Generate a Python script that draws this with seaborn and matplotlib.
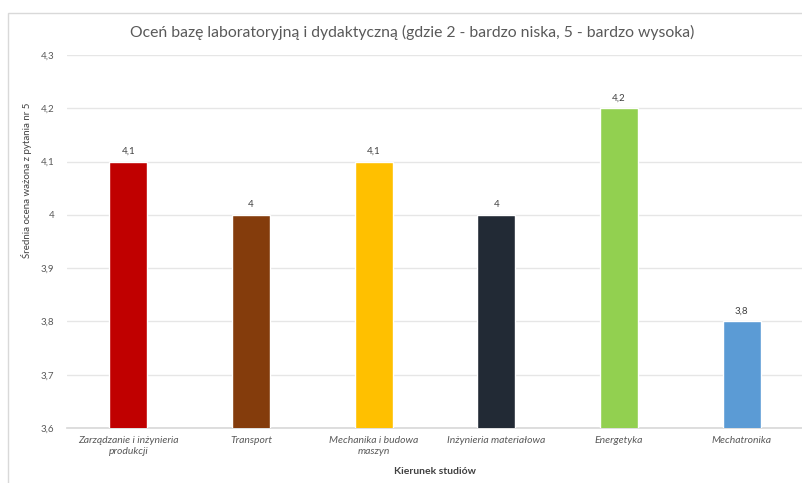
import matplotlib
matplotlib.use("Agg")
import matplotlib.pyplot as plt
import seaborn as sns
import pandas as pd
from matplotlib.patches import Rectangle

categories = ["Zarządzanie i inżynieria\nprodukcji", "Transport", "Mechanika i budowa\nmaszyn",
              "Inżynieria materiałowa", "Energetyka", "Mechatronika"]
values = [4.1, 4.0, 4.1, 4.0, 4.2, 3.8]
value_labels = ["4,1", "4", "4,1", "4", "4,2", "3,8"]
colors = ["#C00000", "#843C0C", "#FFC000", "#222A35", "#92D050", "#5B9BD5"]
yticks = [3.6, 3.7, 3.8, 3.9, 4.0, 4.1, 4.2, 4.3]
ytick_labels = ["3,6", "3,7", "3,8", "3,9", "4", "4,1", "4,2", "4,3"]

sns.set_theme(style="white")
plt.rcParams['font.family'] = ['Lato', 'DejaVu Sans']

df = pd.DataFrame({"kierunek": categories, "ocena": values})

fig = plt.figure(figsize=(8.03, 4.83), dpi=100)
ax = fig.add_axes([67/803, 1-428/483, (803-67)/803, (428-55)/483])

# outer chart frame
fig.patches.append(Rectangle((8/803, -0.01), 1.0, 1-13/483+0.01, transform=fig.transFigure,
                             fill=False, edgecolor="#D9D9D9", linewidth=1.0))

sns.barplot(data=df, x="kierunek", y="ocena", hue="kierunek", palette=colors,
            legend=False, width=0.31, ax=ax, zorder=3, saturation=1)

ax.set_ylim(3.6, 4.3)
ax.set_yticks(yticks)
ax.set_yticklabels(ytick_labels, fontsize=7, color="#595959")
ax.yaxis.grid(True, color="#E6E6E6", linewidth=1.0, zorder=0)
ax.set_axisbelow(True)
for s in ["top", "right", "left"]:
    ax.spines[s].set_visible(False)
ax.spines["bottom"].set_color("#D9D9D9")
ax.tick_params(axis="y", length=0, pad=9)
ax.tick_params(axis="x", length=0, pad=6)
for lbl in ax.get_xticklabels():
    lbl.set_fontsize(7.5)
    lbl.set_style("italic")
    lbl.set_color("#595959")

for i, (v, t) in enumerate(zip(values, value_labels)):
    ax.annotate(t, (i, v), xytext=(0, 4), textcoords="offset points",
                ha="center", va="bottom", fontsize=7, color="#404040")

ax.set_xlabel("Kierunek studiów", fontsize=7.5, fontweight="bold", color="#404040", labelpad=8)
ax.set_ylabel("Średnia ocena ważona z pytania nr 5", fontsize=7, color="#404040")
ax.yaxis.set_label_coords(-0.048, 0.665)

fig.text(412/803, 1-32/483, "Oceń bazę laboratoryjną i dydaktyczną (gdzie 2 - bardzo niska, 5 - bardzo wysoka)",
         ha="center", va="center", fontsize=11.3, color="#595959")

fig.savefig("out.png", dpi=100)
